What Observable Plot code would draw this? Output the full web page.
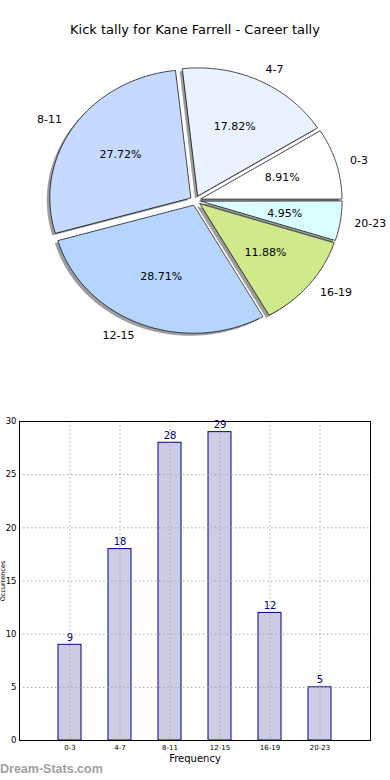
<!DOCTYPE html>
<html><head><meta charset="utf-8">
<script src="https://cdn.jsdelivr.net/npm/d3@7"></script>
<script src="https://cdn.jsdelivr.net/npm/@observablehq/plot@0.6"></script>
<style>
html,body{margin:0;padding:0;background:#fff;}
#wrap{position:relative;width:390px;height:780px;overflow:hidden;font-family:"DejaVu Sans",sans-serif;}
#pie{position:absolute;top:0;left:0;}
#title{position:absolute;top:21px;left:0;width:390px;text-align:center;font-size:13px;color:#000;line-height:18px;}
#bar{position:absolute;top:390px;left:0;}
#wm{position:absolute;left:0;top:762px;font:bold 12.5px "Liberation Sans",Arial,sans-serif;color:#a0a0a0;}
</style></head><body>
<div id="wrap"><div id="pie"></div><div id="title"></div><div id="bar"></div><div id="wm"></div></div>
<script>
// ---- data ----
const titleText = "Kick tally for Kane Farrell - Career tally";
const categories = ["0-3", "4-7", "8-11", "12-15", "16-19", "20-23"];
const counts = [9, 18, 28, 29, 12, 5];
const yTicks = [0, 5, 10, 15, 20, 25, 30];
const xLabel = "Frequency";
const yLabel = "Occurrences";
const watermark = "Dream-Stats.com";

// ---- styles ----
const sliceColors = ["#ffffff", "#ebf2ff", "#c6d9ff", "#b5d5ff", "#d0ea8b", "#dbffff"];
const explode = 0.04;

document.getElementById("title").textContent = titleText;
document.getElementById("wm").textContent = watermark;

// ---- pie geometry from counts ----
const total = d3.sum(counts);
let acc = 0;
const slices = categories.map((c, i) => {
  const a0 = acc / total * 2 * Math.PI;
  acc += counts[i];
  const a1 = acc / total * 2 * Math.PI;
  const mid = (a0 + a1) / 2;
  return {cat: c, a0, a1, mid, ox: explode * Math.cos(mid), oy: explode * Math.sin(mid),
          pct: (counts[i] / total * 100).toFixed(2) + "%"};
});
const wedgePts = slices.flatMap(s => {
  const n = Math.max(2, Math.ceil((s.a1 - s.a0) / (Math.PI / 180)));
  const pts = [{cat: s.cat, x: s.ox, y: s.oy}];
  for (let k = 0; k <= n; k++) {
    const a = s.a0 + (s.a1 - s.a0) * k / n;
    pts.push({cat: s.cat, x: s.ox + Math.cos(a), y: s.oy + Math.sin(a)});
  }
  return pts;
});

const pie = Plot.plot({
  width: 390, height: 390, margin: 0,
  style: {fontFamily: "DejaVu Sans", background: "transparent"},
  x: {domain: [-195 / 141, 195 / 141], axis: null},
  y: {domain: [-190 / 128, 200 / 128], axis: null},
  color: {domain: categories, range: sliceColors},
  marks: [
    ...slices.flatMap(s => {
      const pts = wedgePts.filter(d => d.cat === s.cat);
      return [
        Plot.line(pts, {x: "x", y: "y", curve: "linear-closed", fill: "#4d4d4d", fillOpacity: 0.55, stroke: "none", dx: -3, dy: 2.5}),
        Plot.line(pts, {x: "x", y: "y", z: "cat", curve: "linear-closed", fill: "cat", stroke: "black", strokeWidth: 0.7})
      ];
    }),
    Plot.text(slices.filter(s => Math.cos(s.mid) > 0), {
      x: s => s.ox + 1.1 * Math.cos(s.mid), y: s => s.oy + 1.1 * Math.sin(s.mid),
      text: "cat", textAnchor: "start", fontSize: 11, fill: "black"}),
    Plot.text(slices.filter(s => Math.cos(s.mid) <= 0), {
      x: s => s.ox + 1.1 * Math.cos(s.mid), y: s => s.oy + 1.1 * Math.sin(s.mid),
      text: "cat", textAnchor: "end", fontSize: 11, fill: "black"}),
    Plot.text(slices, {
      x: s => s.ox + 0.6 * Math.cos(s.mid), y: s => s.oy + 0.6 * Math.sin(s.mid),
      text: "pct", fontSize: 11, fill: "black"})
  ]
});
document.getElementById("pie").appendChild(pie);

// ---- bar chart ----
const barData = categories.map((c, i) => ({cat: c, n: counts[i]}));
const gridStyle = {stroke: "#a8a8a8", strokeOpacity: 1, strokeWidth: 1, strokeDasharray: "1.5,2.5"};
const bar = Plot.plot({
  width: 390, height: 390,
  marginLeft: 19, marginRight: 20, marginTop: 31, marginBottom: 40,
  style: {fontFamily: "DejaVu Sans", background: "transparent"},
  x: {domain: categories, type: "band", paddingInner: 0.54, paddingOuter: 0.78, label: null},
  y: {domain: [0, 30], label: null},
  marks: [
    Plot.barY(barData, {x: "cat", y: "n", fill: "#cccce5", stroke: "#000099", strokeWidth: 1}),
    Plot.gridX(gridStyle),
    Plot.gridY(yTicks, gridStyle),
    Plot.frame({stroke: "black", strokeWidth: 1}),
    Plot.axisX({tickSize: 0, tickPadding: 5, fontSize: 7, label: null}),
    Plot.axisY(yTicks, {tickSize: 0, tickPadding: 3, fontSize: 8.5, label: null}),
    Plot.text(barData, {x: "cat", y: "n", text: d => String(d.n), dy: -4, lineAnchor: "bottom", fill: "#000080", fontSize: 10}),
    Plot.text([xLabel], {frameAnchor: "bottom", dy: 21, text: d => d, fontSize: 10, fill: "black"}),
    Plot.text([yLabel], {frameAnchor: "left", textAnchor: "middle", dx: -16.4, rotate: -90, text: d => d, fontSize: 6.5, fill: "black"})
  ]
});
document.getElementById("bar").appendChild(bar);
</script>
</body></html>
